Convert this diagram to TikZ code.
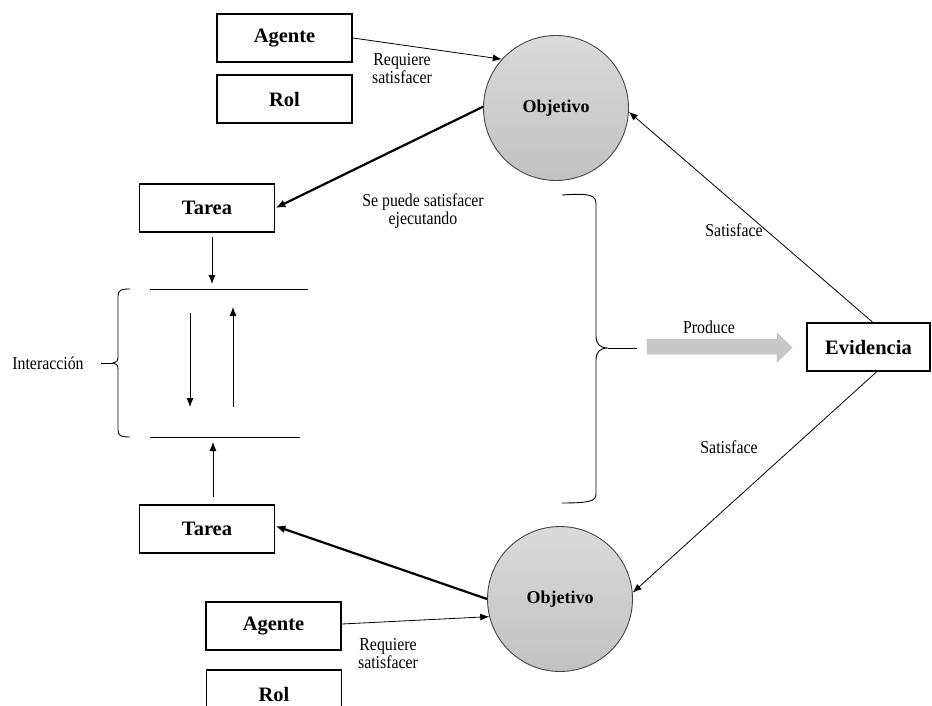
\documentclass[tikz,border=0pt]{standalone}
\usepackage{fontspec}
\setmainfont{Liberation Serif}
\newfontfamily\narrowserif[FakeStretch=0.87]{Liberation Serif}
\usetikzlibrary{arrows.meta}
\definecolor{circfillA}{RGB}{218,218,218}
\definecolor{circfillB}{RGB}{194,194,194}
\definecolor{circedge}{RGB}{70,70,70}
\definecolor{arrowgray}{RGB}{200,200,200}
\definecolor{arrowedge}{RGB}{185,185,185}
\tikzset{
  box/.style={draw=black, line width=1.8pt, minimum width=135pt, minimum height=48pt, inner sep=0pt,
    font=\fontsize{20.5}{22}\selectfont\bfseries},
  goal/.style={circle, draw=circedge, line width=0.9pt, top color=circfillA, bottom color=circfillB,
    minimum size=145pt, inner sep=0pt, font=\fontsize{18}{20}\selectfont\bfseries},
  lbl/.style={align=center, inner sep=0pt, font=\narrowserif\fontsize{18.2}{18}\selectfont},
  thin/.style={line width=0.8pt, -{Latex[length=9pt,width=7pt]}},
  thick/.style={line width=2.2pt, -{Latex[length=10pt,width=8pt]}},
  plain/.style={line width=0.9pt},
}
\begin{document}
\begin{tikzpicture}[x=1pt,y=-1pt]
\useasboundingbox (0,0) rectangle (932,706);
% nodes
\node[box] (agente1) at (284.5,38) {Agente};
\node[box] (rol1) at (284.5,99) {Rol};
\node[goal] (obj1) at (556,108) {Objetivo};
\node[box] (tarea1) at (207,208) {Tarea};
\node[box] (tarea2) at (207,529) {Tarea};
\node[goal] (obj2) at (560,599) {Objetivo};
\node[box] (agente2) at (273.5,626) {Agente};
\node[box] (rol2) at (274,694) {Rol};
\node[box, minimum width=123pt] (evid) at (868.5,347) {Evidencia};
% labels
\node[lbl] (req1) at (402,69) {Requiere\\satisfacer};
\node[lbl] (req2) at (388,654) {Requiere\\satisfacer};
\node[lbl] (sepuede) at (423,211) {Se puede satisfacer\\ejecutando};
\node[lbl] (sat1) at (734,230) {Satisface};
\node[lbl] (sat2) at (729,447) {Satisface};
\node[lbl] (prod) at (709,327) {Produce};
\node[lbl] (inter) at (48,363) {Interacción};
% main connectors
\draw[thin] (agente1.east) -- (obj1.138);
\draw[thick] (obj1.179) -- (tarea1.east);
\draw[thin] ([xshift=4pt]evid.north) -- (obj1.-3);
\draw[thin] ([xshift=8pt]evid.south) -- (obj2.5);
\draw[thick] (obj2.180) -- ([yshift=3pt]tarea2.east);
\draw[thin] ([yshift=2pt]agente2.east) -- (obj2.194.6);
% interaction area
\coordinate (ta) at (212,237); \coordinate (tb) at (212,284);
\coordinate (la) at (150,289); \coordinate (lb) at (308,289);
\coordinate (ma) at (150,437); \coordinate (mb) at (300,437);
\coordinate (da) at (190,313); \coordinate (db) at (190,407);
\coordinate (ua) at (233,407); \coordinate (ub) at (233,307);
\coordinate (ba) at (213,497); \coordinate (bb) at (213,442);
\draw[thin] (ta) -- (tb);
\draw[plain] (la) -- (lb);
\draw[plain] (ma) -- (mb);
\draw[thin] (da) -- (db);
\draw[thin] (ua) -- (ub);
\draw[thin] (ba) -- (bb);
% left brace
\draw[plain] (130,289) .. controls (121,289) and (118,290) .. (118,296)
  -- (118,357) .. controls (118,361) and (116,363) .. (113,363)
  .. controls (116,363) and (118,365) .. (118,369)
  -- (118,430) .. controls (118,436) and (121,437) .. (130,437);
\coordinate (lbt) at (113,363);
\draw[plain] (inter.east) ++(17,0) -- (lbt);
% right brace
\draw[plain] (562,195) .. controls (590,193) and (596,195) .. (596,204)
  -- (596,336) .. controls (596,344) and (600,348) .. (608,348)
  .. controls (600,348) and (596,352) .. (596,360)
  -- (596,494) .. controls (596,501) and (590,503) .. (562,503);
\coordinate (rbt) at (608,348); \coordinate (rbe) at (637,348);
\draw[plain] (rbt) -- (rbe);
% produce arrow
\fill[arrowgray, draw=arrowedge, line width=0.5pt]
  (647,339) -- (777,339) -- (777,333) -- (792,347.5) -- (777,362) -- (777,354) -- (647,354) -- cycle;
\end{tikzpicture}
\end{document}
